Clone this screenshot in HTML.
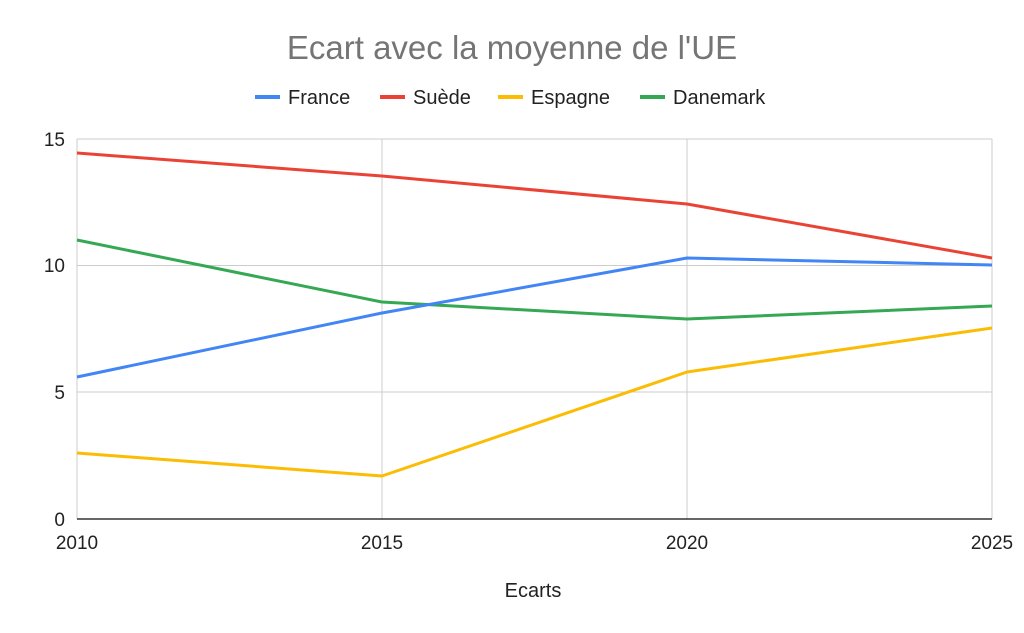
<!DOCTYPE html>
<html><head><meta charset="utf-8"><style>body{margin:0;background:#fff}svg{display:block}</style></head>
<body>
<svg width="1024" height="633" xmlns="http://www.w3.org/2000/svg" font-family="Liberation Sans, Arial, sans-serif">
<rect width="1024" height="633" fill="#fff"/>
<text x="512" y="59" text-anchor="middle" font-size="33" fill="#757575">Ecart avec la moyenne de l'UE</text>
<g font-size="20" fill="#222">
<line x1="255" y1="97" x2="280" y2="97" stroke="#4285f4" stroke-width="4"/><text x="288" y="104">France</text>
<line x1="380" y1="97" x2="405" y2="97" stroke="#ea4335" stroke-width="4"/><text x="413" y="104">Suède</text>
<line x1="498" y1="97" x2="523" y2="97" stroke="#fbbc04" stroke-width="4"/><text x="531" y="104">Espagne</text>
<line x1="640" y1="97" x2="665" y2="97" stroke="#34a853" stroke-width="4"/><text x="673" y="104">Danemark</text>
</g>
<g stroke="#ccc" stroke-width="1">
<line x1="77" y1="139" x2="992" y2="139"/>
<line x1="77" y1="265.5" x2="992" y2="265.5"/>
<line x1="77" y1="392" x2="992" y2="392"/>
<line x1="77" y1="139" x2="77" y2="519"/>
<line x1="382" y1="139" x2="382" y2="519"/>
<line x1="687" y1="139" x2="687" y2="519"/>
<line x1="992" y1="139" x2="992" y2="519"/>
</g>
<line x1="77" y1="519" x2="992" y2="519" stroke="#333" stroke-width="1.5"/>
<g font-size="19" fill="#222" text-anchor="end">
<text x="65" y="146">15</text><text x="65" y="272">10</text><text x="65" y="399">5</text><text x="65" y="526">0</text>
</g>
<g font-size="19" fill="#222" text-anchor="middle">
<text x="77" y="549">2010</text><text x="382" y="549">2015</text><text x="687" y="549">2020</text><text x="992" y="549">2025</text>
</g>
<text x="533" y="597" text-anchor="middle" font-size="20" fill="#222">Ecarts</text>
<g fill="none" stroke-width="3" stroke-linejoin="round">
<polyline stroke="#fbbc04" points="77,453 382,476 687,372 992,328"/>
<polyline stroke="#34a853" points="77,240 382,302 687,319 992,306"/>
<polyline stroke="#4285f4" points="77,377 382,313 687,258 992,265"/>
<polyline stroke="#ea4335" points="77,153 382,176 687,204 992,258"/>
</g>
</svg>
</body></html>
